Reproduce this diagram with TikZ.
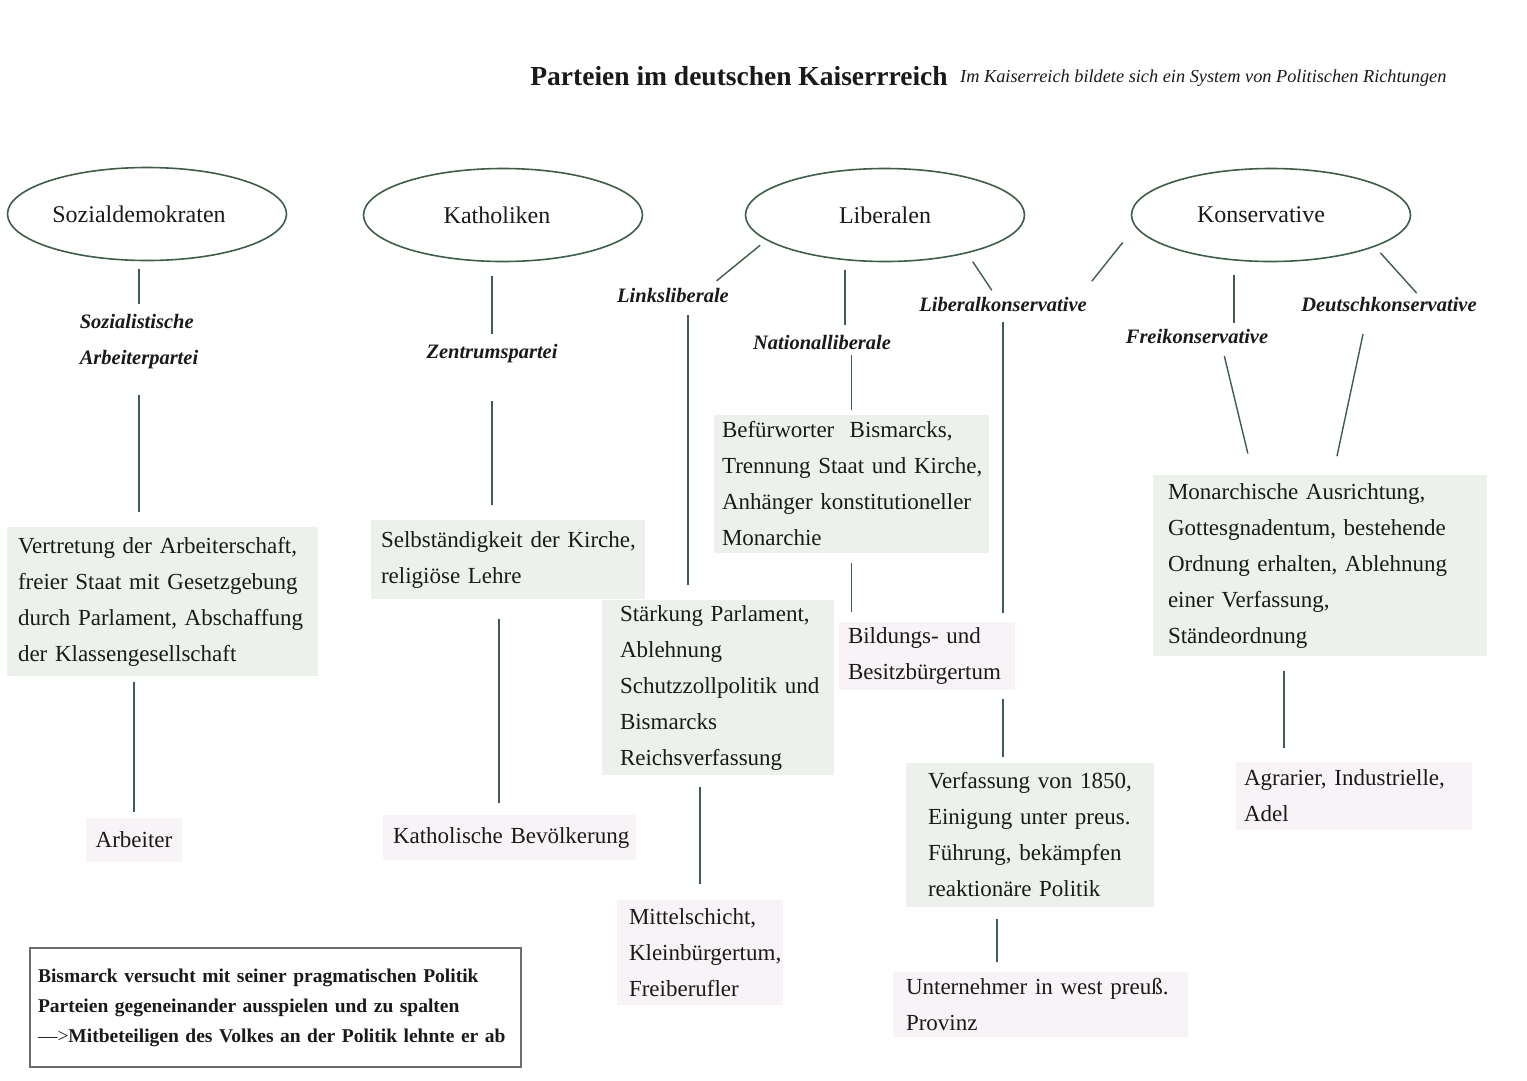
\documentclass[tikz,border=0pt]{standalone}
\usepackage{fontspec}
\setmainfont{Liberation Serif}
\usetikzlibrary{shapes.geometric}
\definecolor{lineg}{HTML}{3E5E48}
\definecolor{boxg}{HTML}{ECF1EC}
\definecolor{pinkc}{HTML}{F8F3F6}
\definecolor{txt}{HTML}{1A1A1A}
\newcommand{\lbx}[1]{\mbox{#1}}
\tikzset{
  ell/.style={ellipse, draw=lineg, line width=1.6pt, minimum width=279pt, minimum height=93pt, inner sep=0pt, text=txt, font=\fontsize{24}{30}\selectfont},
  lab/.style={align=left, inner sep=3pt, text=txt, font=\fontsize{20.5}{36}\selectfont\bfseries\itshape},
  gbox/.style={fill=boxg, inner ysep=0pt, align=left, text=txt, font=\fontsize{23}{36}\selectfont},
  pbox/.style={fill=pinkc, inner ysep=0pt, align=left, text=txt, font=\fontsize{23}{36}\selectfont},
  conn/.style={draw=lineg, line width=1.4pt},
}
\begin{document}
\begin{tikzpicture}[x=1pt,y=-1pt]
\useasboundingbox[fill=white] (0,0) rectangle (1527,1080);

% title
\node[font=\fontsize{27.5}{30}\selectfont\bfseries, text=txt] (title) at (739,76) {Parteien im deutschen Kaiserrreich};
\node[anchor=west, font=\fontsize{18.3}{22}\selectfont\itshape, text=txt, inner sep=0pt] (sub) at (960,78) {Im Kaiserreich bildete sich ein System von Politischen Richtungen};

% ellipses
\node[ell] (sd) at (147,214) {Sozialdemokraten\hspace*{16pt}};
\node[ell] (kat) at (503,215) {Katholiken\hspace*{12pt}};
\node[ell] (lib) at (885,215) {Liberalen};
\node[ell] (kons) at (1271,215) {Konservative\hspace*{20pt}};

% italic labels
\node[lab] (sap) at (139,342) {Sozialistische\\Arbeiterpartei};
\node[lab] (zp) at (492,354) {Zentrumspartei};
\node[lab] (ll) at (673,295) {Linksliberale};
\node[lab] (nl) at (822,342) {Nationalliberale};
\node[lab] (lk) at (1003,304) {Liberalkonservative};
\node[lab] (fk) at (1197,336) {Freikonservative};
\node[lab] (dk) at (1389,305) {Deutschkonservative};

% green boxes
\node[gbox, inner xsep=11pt, text width=289pt, minimum height=149pt] (b1) at (162.5,601.5)
  {\lbx{Vertretung der Arbeiterschaft,}\\\lbx{freier Staat mit Gesetzgebung}\\\lbx{durch Parlament, Abschaffung}\\\lbx{der Klassengesellschaft}};
\node[gbox, inner xsep=10pt, text width=254pt, minimum height=79pt] (b2) at (508,559.5)
  {\lbx{Selbständigkeit der Kirche,}\\\lbx{religiöse Lehre}};
\node[gbox, inner xsep=18pt, text width=196pt, minimum height=175pt] (b3) at (718,687.5)
  {\lbx{Stärkung Parlament,}\\\lbx{Ablehnung}\\\lbx{Schutzzollpolitik und}\\\lbx{Bismarcks}\\\lbx{Reichsverfassung}};
\node[gbox, inner xsep=8pt, text width=259pt, minimum height=138pt] (b4) at (851.5,484)
  {\lbx{Befürworter\ \ Bismarcks,}\\\lbx{Trennung Staat und Kirche,}\\\lbx{Anhänger konstitutioneller}\\\lbx{Monarchie}};
\node[gbox, inner xsep=22pt, text width=204pt, minimum height=144pt] (b5) at (1030,835)
  {\lbx{Verfassung von 1850,}\\\lbx{Einigung unter preus.}\\\lbx{Führung, bekämpfen}\\\lbx{reaktionäre Politik}};
\node[gbox, inner xsep=15pt, text width=304pt, minimum height=181pt] (b6) at (1320,565.5)
  {\lbx{Monarchische Ausrichtung,}\\\lbx{Gottesgnadentum, bestehende}\\\lbx{Ordnung erhalten, Ablehnung}\\\lbx{einer Verfassung,}\\\lbx{Ständeordnung}};

% pink boxes
\node[pbox, inner xsep=8pt, text width=80pt, minimum height=44pt, align=center] (p1) at (134,840) {Arbeiter};
\node[pbox, inner xsep=10pt, text width=233pt, minimum height=45pt] (p2) at (509.5,837.5) {\lbx{Katholische Bevölkerung}};
\node[pbox, inner xsep=12pt, text width=142pt, minimum height=105pt] (p3) at (700,952.5)
  {\lbx{Mittelschicht,}\\\lbx{Kleinbürgertum,}\\\lbx{Freiberufler}};
\node[pbox, inner xsep=9pt, text width=158pt, minimum height=68pt] (p4) at (927,656)
  {\lbx{Bildungs- und}\\\lbx{Besitzbürgertum}};
\node[pbox, inner xsep=13pt, text width=269pt, minimum height=65pt] (p5) at (1040.5,1004.5)
  {\lbx{Unternehmer in west preuß.}\\\lbx{Provinz}};
\node[pbox, inner xsep=8pt, text width=220pt, minimum height=68pt] (p6) at (1354,796)
  {\lbx{Agrarier, Industrielle,}\\\lbx{Adel}};

% note box
\node[draw=gray!85!black, line width=1.1pt, fill=white, inner xsep=8pt, inner ysep=0pt, text width=475pt, minimum height=119pt, align=left, text=txt,
  font=\fontsize{19.5}{30}\selectfont\bfseries] (note) at (275.5,1007.5)
  {\lbx{Bismarck versucht mit seiner pragmatischen Politik}\\\lbx{Parteien gegeneinander ausspielen und zu spalten}\\\lbx{{\mdseries —>}Mitbeteiligen des Volkes an der Politik lehnte er ab}};

% connectors
\draw[conn, shorten <=8pt, shorten >=8pt] (sap.north |- sd.south) -- (sap.north);
\draw[conn, shorten <=22pt, shorten >=15pt] (sap.south) -- (sap.south |- b1.north);
\draw[conn, shorten <=6pt, shorten >=6pt] (p1.north |- b1.south) -- (p1.north);

\draw[conn, shorten <=14pt, shorten >=8pt] (zp.north |- kat.south) -- (zp.north);
\draw[conn, shorten <=34pt, shorten >=15pt] (zp.south) -- (zp.south |- b2.north);
\draw[conn, shorten <=20pt, shorten >=12pt] ([xshift=-9pt]b2.south) -- ([xshift=-9pt]b2.south |- p2.north);

\draw[conn, shorten <=8pt, shorten >=6pt] (lib.192) -- ([xshift=-20pt]ll.north east);
\draw[conn, shorten <=10pt, shorten >=15pt] ([xshift=15pt]ll.south) -- ([xshift=15pt]ll.south |- b3.north);
\draw[conn, shorten <=12pt, shorten >=16pt] (p3.north |- b3.south) -- (p3.north);

\draw[conn, shorten <=8pt, shorten >=7pt] ([xshift=23pt]nl.north |- lib.south) -- ([xshift=23pt]nl.north);
\draw[conn, shorten <=3pt, shorten >=5pt] (b4.north |- nl.south) -- (b4.north);
\draw[conn, shorten <=10pt, shorten >=10pt] (b4.south) -- (b4.south |- p4.north);

\draw[conn, shorten <=10pt, shorten >=4pt] (lib.335) -- ([xshift=-9pt]lk.north);
\draw[conn, shorten <=20pt, shorten >=3pt] (kons.185) -- ([yshift=10pt]lk.north east);
\draw[conn, shorten <=8pt, shorten >=9pt] (lk.south) -- (lk.south |- p4.north);
\draw[conn, shorten <=9pt, shorten >=6pt] (lk.south |- p4.south) -- (lk.south |- b5.north);
\draw[conn, shorten <=12pt, shorten >=10pt] ([xshift=-6pt]lk.south |- b5.south) -- ([xshift=-6pt]lk.south |- p5.north);

\draw[conn, shorten <=13pt, shorten >=3pt] ([xshift=37pt]fk.north |- kons.south) -- ([xshift=37pt]fk.north);
\draw[conn, shorten <=8pt, shorten >=2pt] (kons.343) -- ([xshift=29pt]dk.north);
\draw[conn, shorten <=10pt, shorten >=22pt] ([xshift=25pt]fk.south) -- ([xshift=-67pt]b6.north);
\draw[conn, shorten <=19pt, shorten >=19pt] ([xshift=-22pt]dk.south) -- ([xshift=13pt]b6.north);
\draw[conn, shorten <=15pt, shorten >=14pt] ([xshift=-36pt]b6.south) -- ([xshift=-36pt]b6.south |- p6.north);
\end{tikzpicture}
\end{document}
